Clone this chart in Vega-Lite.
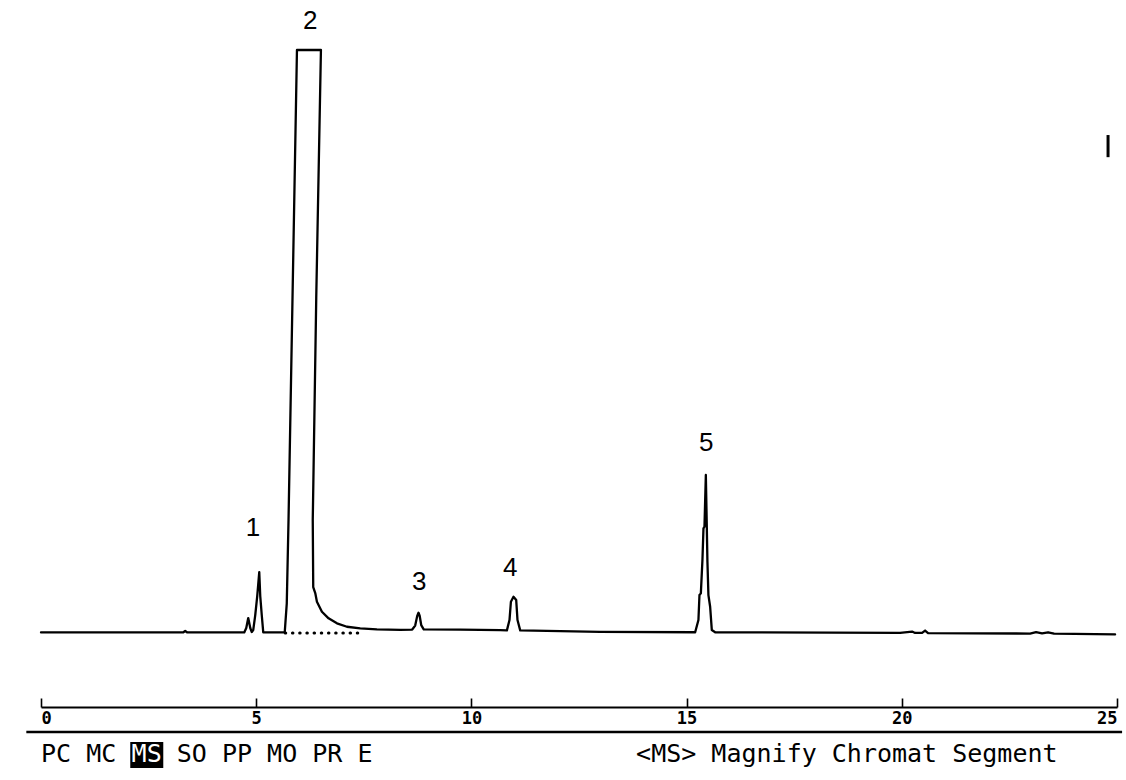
{
  "$schema": "https://vega.github.io/schema/vega-lite/v6.json",
  "width": 1076,
  "height": 657,
  "autosize": {"type": "none"},
  "padding": {"left": 41, "top": 50, "right": 9, "bottom": 73},
  "background": "white",
  "config": {"view": {"stroke": null}},
  "data": {"values": [{}]},
  "datasets": {
    "trace": [
      {"rt": 0, "signal": 0}, {"rt": 3.3, "signal": 0}, {"rt": 3.35, "signal": 0.25}, {"rt": 3.4, "signal": 0},
      {"rt": 4.722, "signal": 0}, {"rt": 4.769, "signal": 0.76}, {"rt": 4.815, "signal": 2.47}, {"rt": 4.862, "signal": 0.76},
      {"rt": 4.897, "signal": 0.07}, {"rt": 4.931, "signal": 0.41}, {"rt": 4.978, "signal": 2.99}, {"rt": 5.024, "signal": 6.25},
      {"rt": 5.071, "signal": 10.37}, {"rt": 5.094, "signal": 6.25}, {"rt": 5.129, "signal": 2.99}, {"rt": 5.164, "signal": 0},
      {"rt": 5.663, "signal": 0}, {"rt": 5.71, "signal": 4.95}, {"rt": 5.751, "signal": 19.3}, {"rt": 5.947, "signal": 100},
      {"rt": 6.504, "signal": 100}, {"rt": 6.395, "signal": 57.42}, {"rt": 6.314, "signal": 19.3}, {"rt": 6.325, "signal": 7.8},
      {"rt": 6.372, "signal": 6.77}, {"rt": 6.411, "signal": 5.27}, {"rt": 6.527, "signal": 3.55}, {"rt": 6.681, "signal": 2.42},
      {"rt": 6.876, "signal": 1.56}, {"rt": 7.108, "signal": 0.98}, {"rt": 7.417, "signal": 0.7}, {"rt": 7.805, "signal": 0.53},
      {"rt": 8.346, "signal": 0.45}, {"rt": 8.625, "signal": 0.5}, {"rt": 8.694, "signal": 1.18}, {"rt": 8.741, "signal": 2.82},
      {"rt": 8.771, "signal": 3.38}, {"rt": 8.799, "signal": 2.82}, {"rt": 8.834, "signal": 1.27}, {"rt": 8.892, "signal": 0.53},
      {"rt": 9.74, "signal": 0.5}, {"rt": 10.669, "signal": 0.41}, {"rt": 10.825, "signal": 0.36}, {"rt": 10.885, "signal": 2.13},
      {"rt": 10.918, "signal": 5.27}, {"rt": 10.978, "signal": 6.13}, {"rt": 11.041, "signal": 5.56}, {"rt": 11.071, "signal": 2.13},
      {"rt": 11.134, "signal": 0.36}, {"rt": 12.063, "signal": 0.24}, {"rt": 12.992, "signal": 0.1}, {"rt": 15.199, "signal": 0.03},
      {"rt": 15.275, "signal": 2.13}, {"rt": 15.299, "signal": 6.42}, {"rt": 15.331, "signal": 6.71}, {"rt": 15.368, "signal": 12.43},
      {"rt": 15.392, "signal": 17.87}, {"rt": 15.415, "signal": 18.15}, {"rt": 15.447, "signal": 27.03}, {"rt": 15.47, "signal": 17.87},
      {"rt": 15.484, "signal": 12.14}, {"rt": 15.507, "signal": 6.42}, {"rt": 15.547, "signal": 4.41}, {"rt": 15.586, "signal": 0.41},
      {"rt": 15.663, "signal": 0.03}, {"rt": 19.96, "signal": -0.07}, {"rt": 20.239, "signal": 0.15}, {"rt": 20.308, "signal": -0.09},
      {"rt": 20.471, "signal": -0.09}, {"rt": 20.541, "signal": 0.33}, {"rt": 20.61, "signal": -0.1}, {"rt": 22.98, "signal": -0.19},
      {"rt": 23.119, "signal": 0.07}, {"rt": 23.259, "signal": -0.17}, {"rt": 23.398, "signal": 0.03}, {"rt": 23.538, "signal": -0.21},
      {"rt": 24.955, "signal": -0.33}
    ],
    "peaks": [
      {"peak": "1", "rt": 4.925, "at": 17.85},
      {"peak": "2", "rt": 6.255, "at": 105.05},
      {"peak": "3", "rt": 8.787, "at": 8.58},
      {"peak": "4", "rt": 10.9, "at": 10.98},
      {"peak": "5", "rt": 15.455, "at": 32.45}
    ]
  },
  "layer": [
    {
      "data": {"name": "trace"},
      "mark": {"type": "line", "color": "black", "strokeWidth": 2.3, "strokeJoin": "round", "strokeCap": "round"},
      "encoding": {
        "x": {
          "field": "rt", "type": "quantitative",
          "scale": {"domain": [0, 25], "nice": false, "zero": false},
          "axis": {
            "values": [0, 5, 10, 15, 20, 25],
            "title": null, "grid": false,
            "domainColor": "black", "domainWidth": 2.2,
            "tickColor": "black", "tickWidth": 1.6, "tickSize": -9,
            "labelFont": "DejaVu Sans Mono", "labelFontWeight": "bold", "labelFontSize": 17,
            "labelColor": "black", "labelFlush": true, "labelPadding": 12, "labelOverlap": false
          }
        },
        "y": {
          "field": "signal", "type": "quantitative",
          "scale": {"domain": [-12.8, 100], "nice": false, "zero": false},
          "axis": null
        },
        "order": {"value": null}
      }
    },
    {
      "mark": {"type": "rule", "color": "black", "strokeWidth": 3, "strokeDash": [0.5, 6.7], "strokeCap": "round"},
      "encoding": {
        "x": {"datum": 5.675, "type": "quantitative"},
        "x2": {"datum": 7.487},
        "y": {"datum": -0.1, "type": "quantitative", "axis": null}
      }
    },
    {
      "mark": {"type": "rule", "color": "black", "strokeWidth": 3},
      "encoding": {
        "x": {"datum": 24.792, "type": "quantitative"},
        "y": {"datum": 81.6, "type": "quantitative", "axis": null},
        "y2": {"datum": 85.4}
      }
    },
    {
      "data": {"name": "peaks"},
      "mark": {"type": "text", "font": "Liberation Sans", "fontSize": 26, "color": "black", "baseline": "middle", "align": "center"},
      "encoding": {
        "x": {"field": "rt", "type": "quantitative"},
        "y": {"field": "at", "type": "quantitative", "axis": null},
        "text": {"field": "peak"}
      }
    },
    {
      "mark": {"type": "rule", "color": "black", "strokeWidth": 2.5},
      "encoding": {
        "x": {"datum": -0.341, "type": "quantitative"},
        "x2": {"datum": 25.118},
        "y": {"datum": -17.1, "type": "quantitative", "axis": null}
      }
    },
    {
      "mark": {"type": "rect", "color": "black"},
      "encoding": {
        "x": {"datum": 2.074, "type": "quantitative"},
        "x2": {"datum": 2.841},
        "y": {"datum": -18.82, "type": "quantitative", "axis": null},
        "y2": {"datum": -23.28}
      }
    },
    {
      "mark": {"type": "text", "font": "DejaVu Sans Mono", "fontSize": 25, "color": "black", "align": "left", "baseline": "alphabetic", "text": "PC MC"},
      "encoding": {
        "x": {"datum": 0.0, "type": "quantitative"},
        "y": {"datum": -22.25, "type": "quantitative", "axis": null}
      }
    },
    {
      "mark": {"type": "text", "font": "DejaVu Sans Mono", "fontSize": 25, "color": "white", "align": "left", "baseline": "alphabetic", "text": "MS"},
      "encoding": {
        "x": {"datum": 2.105, "type": "quantitative"},
        "y": {"datum": -22.25, "type": "quantitative", "axis": null}
      }
    },
    {
      "mark": {"type": "text", "font": "DejaVu Sans Mono", "fontSize": 25, "color": "black", "align": "left", "baseline": "alphabetic", "text": "SO PP MO PR E"},
      "encoding": {
        "x": {"datum": 3.155, "type": "quantitative"},
        "y": {"datum": -22.25, "type": "quantitative", "axis": null}
      }
    },
    {
      "mark": {"type": "text", "font": "DejaVu Sans Mono", "fontSize": 25, "color": "black", "align": "left", "baseline": "alphabetic", "text": "<MS> Magnify Chromat Segment"},
      "encoding": {
        "x": {"datum": 13.827, "type": "quantitative"},
        "y": {"datum": -22.25, "type": "quantitative", "axis": null}
      }
    }
  ]
}
